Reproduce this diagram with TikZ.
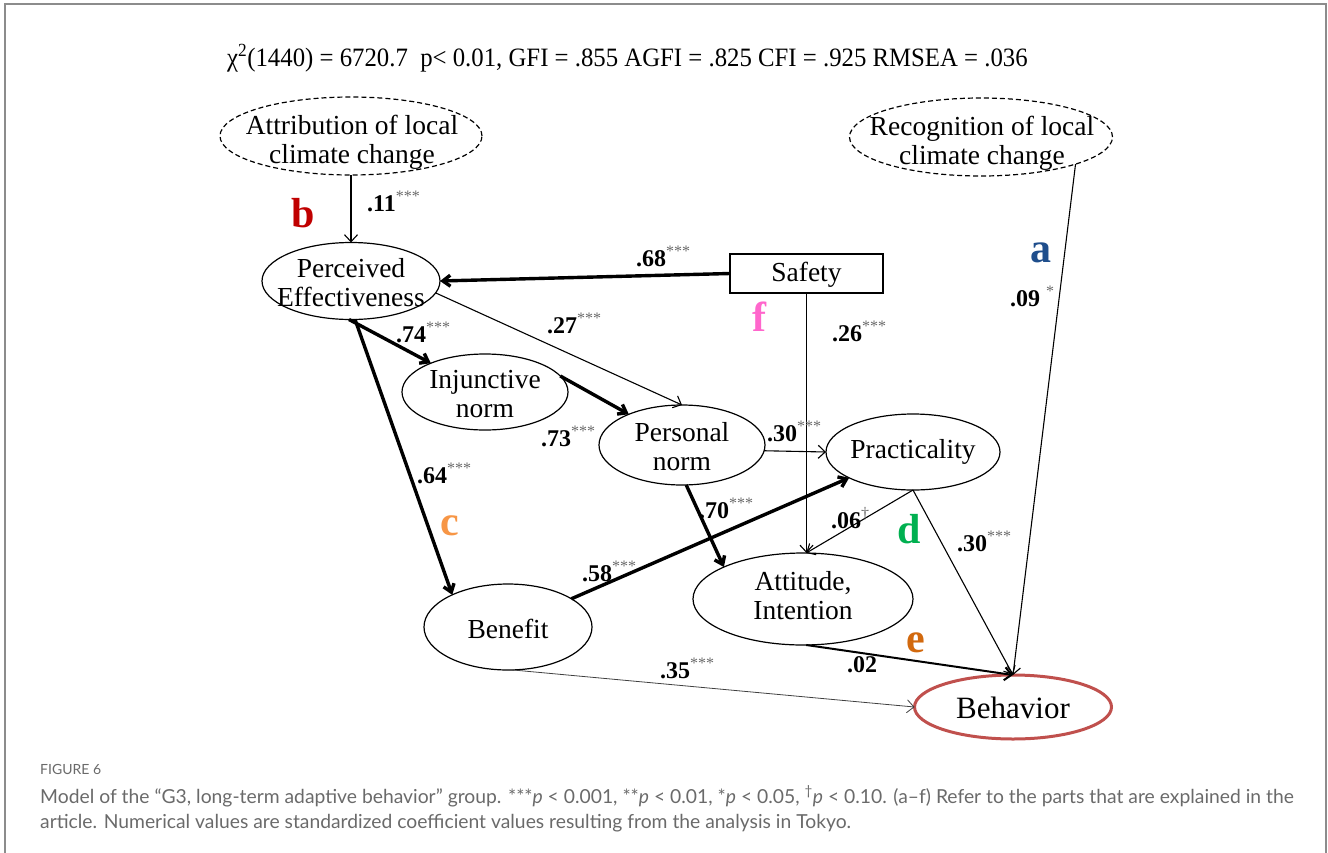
\documentclass[tikz,border=0pt]{standalone}
\usepackage{fontspec}
\setmainfont{Liberation Serif}
\newfontfamily\capfont{Lato}
\usetikzlibrary{shapes.geometric,arrows.meta}
\definecolor{framegray}{HTML}{8C8C8C}
\definecolor{stargray}{HTML}{6A6A6A}
\definecolor{capgray}{HTML}{6A6A6A}
\definecolor{behred}{HTML}{C0504D}
\definecolor{partb}{HTML}{C00000}
\definecolor{parta}{HTML}{1F4E8C}
\definecolor{partf}{HTML}{FF66CC}
\definecolor{partc}{HTML}{F79646}
\definecolor{partd}{HTML}{00B050}
\definecolor{parte}{HTML}{D2690E}
\newcommand\sig[1]{\raisebox{0.4em}{\fontsize{16}{16}\selectfont\mdseries\color{stargray}#1}}
\begin{document}
\begin{tikzpicture}[x=1pt,y=-1pt,
  oval/.style={ellipse, draw, line width=1.2pt, inner sep=0pt, outer sep=0pt},
  latent/.style={oval, dash pattern=on 5pt off 3pt},
  boxnode/.style={rectangle, draw, line width=1.2pt, inner sep=0pt, outer sep=0pt},
  txt/.style={font=\fontsize{27.5}{29}\selectfont, align=center, inner sep=0pt},
  thinarr/.style={line width=1.1pt, -{Straight Barb[length=7pt,width=13pt]}},
  thickarr/.style={line width=3.4pt, -{Straight Barb[length=7.5pt,width=11pt]}},
  coef/.style={font=\fontsize{24}{26}\selectfont\bfseries, inner sep=0pt, anchor=base west},
  part/.style={font=\fontsize{42}{42}\selectfont\bfseries, inner sep=0pt, anchor=base west},
  captxt/.style={font=\capfont\fontsize{19.3}{22}\selectfont, text=capgray, inner sep=0pt, anchor=base west}
]
\useasboundingbox (0,0) rectangle (1328,852);
% outer frame
\draw[framegray, line width=2pt] (5,853) -- (5,4) -- (1326,4) -- (1326,853);

% fit statistics
\node[font=\fontsize{26.5}{28}\selectfont, inner sep=0pt, anchor=base west] (fit) at (227,66)
  {\scalebox{0.935}[1]{χ\textsuperscript{2}(1440) = 6720.7\ \ p< 0.01, GFI = .855 AGFI = .825 CFI = .925 RMSEA = .036}};

% constructs
\node[latent, minimum width=262pt, minimum height=78pt] (attr) at (351,136) {};
\node[txt] at (352,142) {Attribution of local\\climate change};
\node[latent, minimum width=263pt, minimum height=78pt] (recog) at (981,137) {};
\node[txt] at (982,143) {Recognition of local\\climate change};
\node[oval, minimum width=178pt, minimum height=77pt] (pe) at (351,281) {};
\node[txt] at (351,283) {Perceived\\Effectiveness};
\node[boxnode, minimum width=153pt, minimum height=39pt] (safety) at (806.5,273.5) {};
\node[txt] at (806.5,275) {Safety};
\node[oval, minimum width=166pt, minimum height=76pt] (inj) at (485,392) {};
\node[txt] at (485,394) {Injunctive\\norm};
\node[oval, minimum width=166pt, minimum height=80pt] (pn) at (682,445) {};
\node[txt] at (682,447) {Personal\\norm};
\node[oval, minimum width=174pt, minimum height=76pt] (prac) at (913,452) {};
\node[txt] at (913,452) {Practicality};
\node[oval, minimum width=220pt, minimum height=92pt] (att) at (803,599) {};
\node[txt] at (803,596) {Attitude,\\Intention};
\node[oval, minimum width=168pt, minimum height=86pt] (ben) at (508,627) {};
\node[txt] at (508,629) {Benefit};
\node[oval, draw=behred, line width=3pt, minimum width=197pt, minimum height=64pt] (beh) at (1013,707) {};
\node[txt, font=\fontsize{31}{33}\selectfont] at (1013,708) {Behavior};

% paths
\draw[thinarr] (attr.south) -- (pe.north);
\draw[thickarr] (safety.west) -- (pe.east);
\draw[thinarr] (pe.-8) -- (pn.north);
\draw[thickarr] (pe.-93) -- (inj.152);
\draw[thickarr] (pe.-84) -- (ben.150);
\draw[thickarr] (inj.12) -- (pn.150);
\draw[thinarr] (pn.-4) -- (prac.west);
\draw[thickarr] (pn.-84) -- (att.158);
\draw[thinarr] (safety.south) -- (safety.south |- att.north);
\draw[thickarr] (ben.24) -- (prac.202);
\draw[thinarr] (prac.south) -- (att.86);
\draw[line width=2pt, -{Straight Barb[length=7pt,width=13pt]}] (att.-86) -- (beh.north);
\draw[thinarr] (prac.south) -- (beh.north);
\draw[thinarr] (recog.-16) -- (beh.north);
\draw[line width=0.8pt, draw=black!75, -{Straight Barb[length=7pt,width=13pt]}] (ben.-84) -- (beh.west);

% coefficients
\node[coef] (c11) at (367,211) {.11\sig{***}};
\node[coef] (c68) at (636,266) {.68\sig{***}};
\node[coef] (c27) at (547,333) {.27\sig{***}};
\node[coef] (c74) at (396,342) {.74\sig{***}};
\node[coef] (c73) at (541,446) {.73\sig{***}};
\node[coef] (c30a) at (767,441) {.30\sig{***}};
\node[coef] (c26) at (832,341) {.26\sig{***}};
\node[coef] (c64) at (417,483) {.64\sig{***}};
\node[coef] (c70) at (699,518) {.70\sig{***}};
\node[coef] (c06) at (831,528) {.06\sig{†}};
\node[coef] (c58) at (582,581) {.58\sig{***}};
\node[coef] (c30b) at (957,551) {.30\sig{***}};
\node[coef] (c09) at (1010,306) {.09\ \sig{*}};
\node[coef] (c35) at (660,678) {.35\sig{***}};
\node[coef] (c02) at (847,672) {.02};

% part markers
\node[part, text=partb] (pb) at (291,227) {b};
\node[part, text=parta] (pa) at (1030,262) {a};
\node[part, text=partf] (pf) at (752,331) {f};
\node[part, text=partc] (pc) at (440,535) {c};
\node[part, text=partd] (pd) at (897,543) {d};
\node[part, text=parte] (pe2) at (906,652) {e};

% caption
\node[captxt, font=\capfont\fontsize{14}{16}\selectfont] (fig) at (40,774) {FIGURE 6};
\node[captxt] (cap1) at (40,803) {Model of the “G3, long-term adaptive behavior” group. ***\textit{p} < 0.001, **\textit{p} < 0.01, *\textit{p} < 0.05, \textsuperscript{†}\textit{p} < 0.10. (a–f) Refer to the parts that are explained in the};
\node[captxt] (cap2) at (40,828) {article. Numerical values are standardized coefficient values resulting from the analysis in Tokyo.};
\end{tikzpicture}
\end{document}
